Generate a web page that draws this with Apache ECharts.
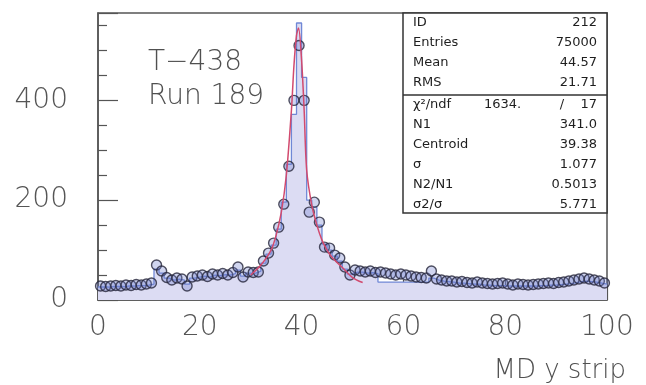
<!DOCTYPE html>
<html>
<head>
<meta charset="utf-8">
<script src="https://cdn.jsdelivr.net/npm/echarts@6/dist/echarts.min.js"></script>
<style>
  html, body { margin: 0; padding: 0; background: #fff; }
  #chart { width: 646px; height: 385px; }
</style>
</head>
<body>
<div id="chart"></div>
<script>
// Histogram contents, one value per 1-strip bin from 0 to 100
const histCounts = [
  26, 26, 27, 27, 27, 28, 28, 29, 29, 30,
  32, 62, 54, 44, 40, 42, 40, 32, 44, 46,
  48, 46, 50, 49, 51, 50, 53, 60, 48, 54,
  54, 58, 74, 92, 110, 142, 196, 272, 372, 555,
  446, 200, 186, 150, 112, 100, 88, 78, 62, 52,
  56, 56, 54, 55, 53, 36, 36, 36, 36, 36,
  36, 36, 36, 36, 36, 44, 40, 38, 37, 36,
  34, 34, 33, 32, 32, 30, 30, 29, 29, 29,
  28, 28, 28, 28, 28, 28, 29, 29, 30, 30,
  31, 32, 33, 35, 37, 38, 37, 36, 34, 32
];

// Measured points at each bin centre
const pointValues = [
  28, 27, 28, 29, 28, 30, 29, 31, 30, 32,
  34, 70, 58, 45, 40, 44, 42, 28, 46, 48,
  50, 47, 52, 50, 53, 50, 55, 66, 46, 56,
  55, 56, 78, 94, 114, 146, 192, 268, 400, 510,
  400, 176, 196, 156, 106, 104, 90, 84, 66, 50,
  60, 58, 56, 58, 55, 56, 54, 52, 50, 52,
  50, 48, 46, 45, 44, 58, 42, 40, 38, 38,
  36, 37, 35, 34, 36, 34, 33, 32, 33, 34,
  32, 30, 32, 31, 30, 31, 32, 33, 34, 33,
  35, 36, 38, 40, 42, 44, 42, 40, 38, 34
];

// Fitted peak curve, sampled along the strip axis
const fitX = [30, 32, 34, 35, 36, 37, 38, 38.5, 39, 39.4, 40, 40.5, 41, 42, 43, 44, 45, 46, 48, 50, 52];
const fitY = [50, 70, 100, 130, 175, 250, 380, 470, 530, 545, 480, 380, 260, 190, 150, 120, 100, 85, 65, 45, 35];

// Axis ticks
const xTicks = [0, 20, 40, 60, 80, 100];
const yTicks = [0, 200, 400];

// Statistics panel rows: [label, value]
const statsTop = [
  ['ID', '212'],
  ['Entries', '75000'],
  ['Mean', '44.57'],
  ['RMS', '21.71']
];
const statsFit = [
  ['N1', '341.0'],
  ['Centroid', '39.38'],
  ['σ', '1.077'],
  ['N2/N1', '0.5013'],
  ['σ2/σ', '5.771']
];
const chiLabel = 'χ²/ndf';
const chiValue = '1634.';
const ndfValue = '17';

const histData = histCounts.map((v, i) => [i, v]);
histData.push([histCounts.length, histCounts[histCounts.length - 1]]);
const pointData = pointValues.map((v, i) => [i + 0.5, v]);
const fitData = fitX.map((x, i) => [x, fitY[i]]);

const labelFont = "'DejaVu Sans', sans-serif";
const boxLeft = 403, boxRight = 607, boxTop = 13, boxBottom = 213, boxDiv = 95;

const graphics = [];
graphics.push({
  type: 'rect', shape: { x: boxLeft, y: boxTop, width: boxRight - boxLeft, height: boxBottom - boxTop },
  style: { fill: '#fff', stroke: '#333', lineWidth: 1.5 }, z: 100
});
graphics.push({
  type: 'line', shape: { x1: boxLeft, y1: boxDiv, x2: boxRight, y2: boxDiv },
  style: { stroke: '#333', lineWidth: 1.5 }, z: 101
});
const rowStyle = { font: "13px 'DejaVu Sans', sans-serif", fill: '#1e1e1e', textVerticalAlign: 'middle' };
const addRow = (label, value, y) => {
  graphics.push({ type: 'text', x: 413, y: y, z: 102,
    style: Object.assign({}, rowStyle, { text: label, textAlign: 'left' }) });
  graphics.push({ type: 'text', x: 597, y: y, z: 102,
    style: Object.assign({}, rowStyle, { text: value, textAlign: 'right' }) });
};
statsTop.forEach((r, i) => addRow(r[0], r[1], 23 + i * 20));
addRow(chiLabel, ndfValue, 105);
graphics.push({ type: 'text', x: 484, y: 105, z: 102,
  style: Object.assign({}, rowStyle, { text: chiValue, textAlign: 'left' }) });
graphics.push({ type: 'text', x: 562, y: 105, z: 102,
  style: Object.assign({}, rowStyle, { text: '/', textAlign: 'center' }) });
statsFit.forEach((r, i) => addRow(r[0], r[1], 125 + i * 20));

// Run annotation and axis title
const bigText = { font: "300 28px 'DejaVu Sans', sans-serif", fill: '#505050', textVerticalAlign: 'middle' };
graphics.push({ type: 'text', x: 148, y: 63, z: 50, style: Object.assign({}, bigText, { text: 'T−438' }) });
graphics.push({ type: 'text', x: 148, y: 97, z: 50, style: Object.assign({}, bigText, { text: 'Run 189' }) });
graphics.push({ type: 'text', x: 626, y: 371, z: 50,
  style: Object.assign({}, bigText, { text: 'MD y strip', textAlign: 'right', font: "300 26px 'DejaVu Sans', sans-serif" }) });

const chart = echarts.init(document.getElementById('chart'), null, { renderer: 'canvas' });
chart.setOption({
  animation: false,
  backgroundColor: '#fff',
  grid: { left: 98, right: 39, top: 13, bottom: 85, show: true, borderColor: '#555', borderWidth: 1.5 },
  xAxis: {
    type: 'value', min: xTicks[0], max: xTicks[xTicks.length - 1], interval: 20,
    axisLine: { show: true, lineStyle: { color: '#555', width: 1.5 } },
    axisTick: { inside: true, length: 20, lineStyle: { color: '#555', width: 1.2 } },
    minorTick: { show: true, splitNumber: 4, length: 10, lineStyle: { color: '#555', width: 1.2 } },
    splitLine: { show: false },
    axisLabel: { fontFamily: labelFont, fontWeight: 300, fontSize: 28, color: '#555', margin: 14,
      formatter: v => (xTicks.indexOf(v) >= 0 ? String(v) : '') }
  },
  yAxis: {
    type: 'value', min: 0, max: 575, interval: 200,
    axisLine: { show: true, lineStyle: { color: '#555', width: 1.5 } },
    axisTick: { inside: true, length: 20, lineStyle: { color: '#555', width: 1.2 } },
    minorTick: { show: true, splitNumber: 4, length: 9, lineStyle: { color: '#555', width: 1.2 } },
    splitLine: { show: false },
    axisLabel: { fontFamily: labelFont, fontWeight: 300, fontSize: 28, color: '#555', margin: 30, showMaxLabel: false,
      formatter: v => (yTicks.indexOf(v) >= 0 ? String(v) : '') }
  },
  series: [
    {
      type: 'line', data: histData, step: 'end', symbol: 'none', z: 2,
      lineStyle: { color: '#7088d6', width: 1.3 },
      areaStyle: { color: '#dcdcf3', opacity: 1 }
    },
    {
      type: 'scatter', data: pointData, symbol: 'circle', symbolSize: 10, z: 3,
      itemStyle: { color: 'rgba(110,125,205,0.4)', borderColor: '#26263a', borderWidth: 1.4 }
    },
    {
      type: 'line', data: fitData, smooth: 0.3, symbol: 'none', z: 4,
      lineStyle: { color: '#d24a6e', width: 1.5 }
    }
  ],
  graphic: graphics
});
</script>
</body>
</html>
